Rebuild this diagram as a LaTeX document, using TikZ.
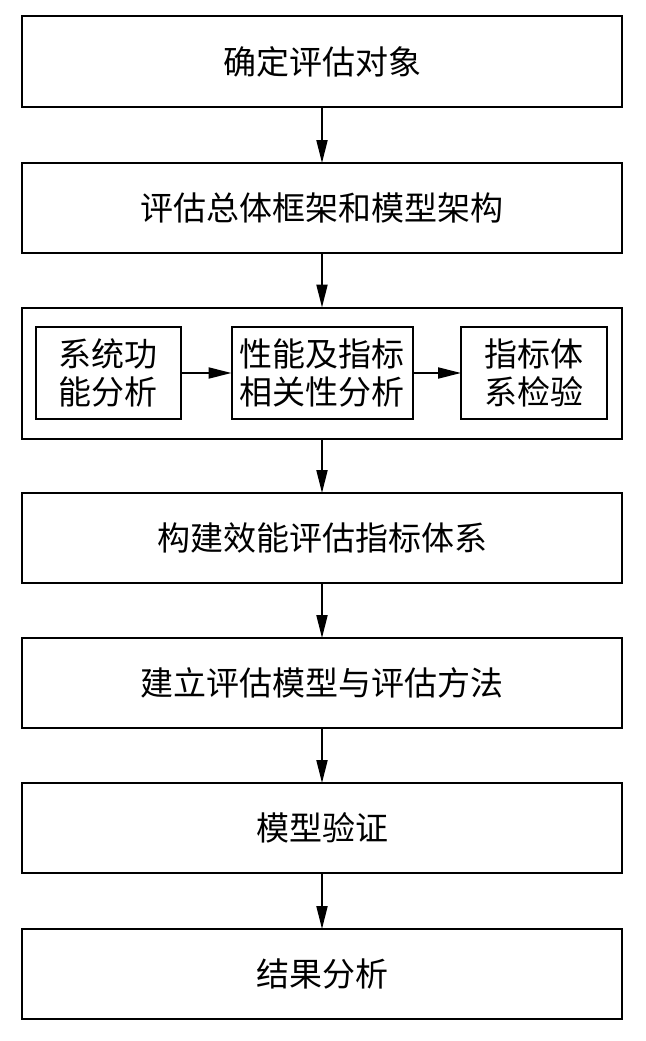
\documentclass[tikz,border=0pt]{standalone}
\usepackage{fontspec}
\setmainfont{Noto Sans CJK SC}
\usepackage{tikz}
\usetikzlibrary{arrows.meta}

\begin{document}
\begin{tikzpicture}[x=1pt,y=-1pt,line width=2pt,font=\fontsize{33}{38}\selectfont,stagebox/.style n args={2}{draw,rectangle,inner sep=0pt,outer sep=0pt,minimum width=#1pt,minimum height=#2pt,align=center},flow/.style={-{Stealth[length=23pt,width=11pt,inset=0pt]}}]
\useasboundingbox (0,0) rectangle (645,1041);
\node[stagebox={600}{91}] (obj) at (322,61.5) {确定评估对象};
\node[stagebox={600}{90}] (frame) at (322,208) {评估总体框架和模型架构};
\node[stagebox={600}{131}] (idx) at (322,373) {};
\node[stagebox={145}{92}] (func) at (108,373) {系统功\\能分析};
\node[stagebox={181}{92}] (corr) at (322,373) {性能及指标\\相关性分析};
\node[stagebox={146}{92}] (check) at (534,373) {指标体\\系检验};
\node[stagebox={600}{90}] (sys) at (322,538) {构建效能评估指标体系};
\node[stagebox={600}{90}] (model) at (322,683) {建立评估模型与评估方法};
\node[stagebox={600}{90}] (valid) at (322,828) {模型验证};
\node[stagebox={600}{90}] (result) at (322,974) {结果分析};
\foreach \a/\b in %
{obj/frame,frame/idx,idx/sys,sys/model,model/valid,valid/result} {
   \draw[flow] (\a.south) -- (\b.north);
}
\draw[flow] (func.east) -- (corr.west);
\draw[flow] (corr.east) -- (check.west);
\end{tikzpicture}
\end{document}
